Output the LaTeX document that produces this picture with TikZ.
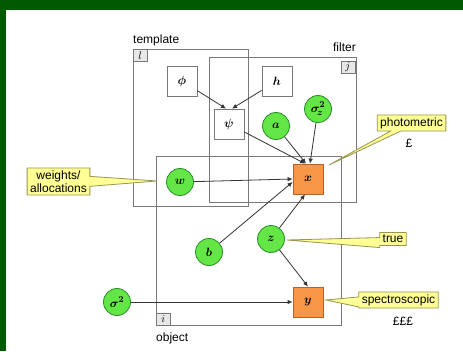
\documentclass[tikz,border=0pt]{standalone}
\usepackage{fontspec}
\setmainfont{Liberation Sans}
\usetikzlibrary{shapes.callouts,arrows.meta}
\definecolor{bgg}{RGB}{0,90,0}
\definecolor{platec}{RGB}{120,120,120}
\definecolor{circf}{RGB}{100,230,70}
\definecolor{circb}{RGB}{40,140,40}
\definecolor{obsf}{RGB}{247,150,70}
\definecolor{obsb}{RGB}{180,100,40}
\definecolor{notef}{RGB}{255,255,150}
\definecolor{noteb}{RGB}{150,150,80}
\begin{document}
\begin{tikzpicture}[x=1pt,y=-1pt,
  plate/.style={draw=platec, line width=0.8pt, inner sep=0pt, anchor=north west},
  idx/.style={draw=platec, fill=gray!18, minimum width=14pt, minimum height=12pt, inner sep=0pt, font=\fontsize{11}{12}\selectfont},
  lbl/.style={font=\fontsize{12}{14}\selectfont, inner sep=0pt},
  mfont/.style={font=\fontsize{13}{14}\selectfont\boldmath},
  par/.style={circle, draw=circb, fill=circf, line width=0.8pt, minimum size=27pt, inner sep=0pt, mfont},
  det/.style={draw=platec, fill=white, minimum size=30pt, inner sep=0pt, line width=0.8pt, mfont},
  obs/.style={draw=obsb, fill=obsf, minimum size=30pt, inner sep=0pt, line width=0.8pt, mfont},
  edge/.style={-{Latex[length=5pt,width=4.5pt]}, line width=0.8pt, draw=black!80},
  note/.style={rectangle callout, draw=noteb, fill=notef, line width=0.8pt, inner xsep=3pt, inner ysep=2.5pt, align=center, callout pointer width=10pt, font=\fontsize{12}{13}\selectfont}
]
\useasboundingbox (0,0) rectangle (463,351);
\fill[bgg] (0,0) rectangle (463,351);
\fill[white] (6,10) rectangle (463,351);

% plates
\node[plate, minimum width=115pt, minimum height=157pt] (tplate) at (133,49) {};
\node[plate, minimum width=147pt, minimum height=145pt] (fplate) at (209,57) {};
\node[plate, minimum width=185pt, minimum height=169pt] (oplate) at (156,156) {};
\node[idx, anchor=north west] (lidx) at (133,49) {$l$};
\node[idx, anchor=north east] (jidx) at (355,61) {$j$};
\node[idx, anchor=south west] (iidx) at (156,325) {$i$};
\node[lbl, anchor=base west] (tlbl) at (133,43) {template};
\node[lbl, anchor=base east] (flbl) at (356,51) {filter};
\node[lbl, anchor=base west] (olbl) at (156,341) {object};

% nodes
\node[det] (phi) at (182,81) {$\phi$};
\node[det] (h) at (277,81) {$h$};
\node[det] (psi) at (229,124) {$\psi$};
\node[par] (a) at (276,126) {$a$};
\node[par] (sz) at (318,109) {$\sigma^{2}_{\!z}$};
\node[obs] (x) at (308,179) {$x$};
\node[par] (w) at (180,182) {$w$};
\node[par] (b) at (209,252) {$b$};
\node[par] (z) at (271,239) {$z$};
\node[obs] (y) at (308,302) {$y$};
\node[par] (s2) at (117,302) {$\sigma^2$};

% edges
\draw[edge] (phi) -- ([xshift=-3pt]psi.north);
\draw[edge] (h) -- ([xshift=3pt]psi.north);
\draw[edge] (psi) -- ([xshift=-3pt]x.north);
\draw[edge] (a) -- ([xshift=-2pt]x.north);
\draw[edge] (sz) -- ([xshift=2pt]x.north);
\draw[edge] (w) -- (x.west);
\draw[edge] (b) -- ([yshift=-3pt]x.west);
\draw[edge] (z) -- ([xshift=-3pt]x.south);
\draw[edge] (z) -- (y.north);
\draw[edge] (s2) -- (y.west);

% callouts
\coordinate (wtip) at (157,181);
\coordinate (ptip) at (329,165);
\coordinate (ttip) at (287,240);
\coordinate (stip) at (326,300);
\node[note, callout absolute pointer={(wtip)}] (wnote) at (58.5,181.5) {weights/\\allocations};
\node[note, callout absolute pointer={(ptip)}] (pnote) at (411.5,123) {photometric};
\node[note, callout absolute pointer={(ttip)}] (tnote) at (393,239) {true};
\node[note, callout absolute pointer={(stip)}] (snote) at (398.5,300) {spectroscopic};
\node[lbl] (pound1) at (409,143) {£};
\node[lbl] (pound3) at (403,321) {£££};
\end{tikzpicture}
\end{document}
